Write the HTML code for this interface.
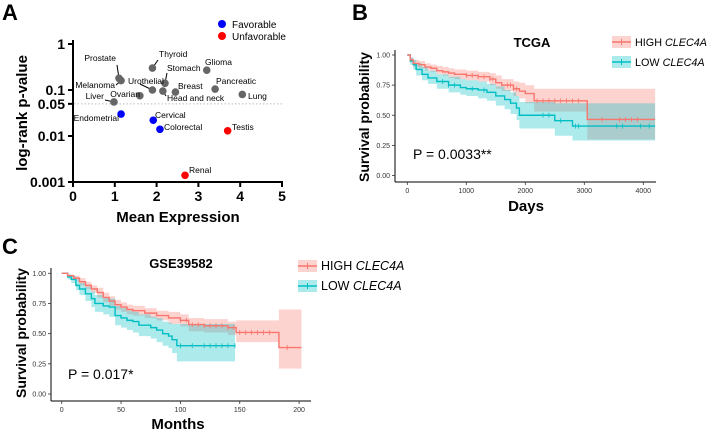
<!DOCTYPE html>
<html><head><meta charset="utf-8"><style>
html,body{margin:0;padding:0;background:#fff;}
svg{display:block;font-family:"Liberation Sans",Arial,sans-serif;}
</style></head><body>
<svg id="fig" width="708" height="431" viewBox="0 0 708 431" xmlns="http://www.w3.org/2000/svg">
<text x="2" y="20" font-size="22" font-weight="bold">A</text>
<text x="352" y="20" font-size="22" font-weight="bold">B</text>
<text x="2" y="254" font-size="22" font-weight="bold">C</text>
<g id="pa"></g>
<g id="pb"></g>
<g id="pc"></g>
</svg>
<script>
// ---- Panel A data ----
const cancers=["Prostate","Melanoma","Thyroid","Stomach","Glioma","Urothelial","Ovarian","Head and neck","Breast","Pancreatic","Lung","Liver","Endometrial","Cervical","Colorectal","Testis","Renal"];
const meanExpr=[1.1,1.15,1.9,2.2,3.2,1.9,1.6,2.15,2.45,3.4,4.05,0.98,1.15,1.92,2.08,3.7,2.68];
const pvals=[0.18,0.16,0.3,0.14,0.27,0.1,0.075,0.095,0.09,0.105,0.08,0.055,0.03,0.022,0.014,0.013,0.0014];
const groups=["n","n","n","n","n","n","n","n","n","n","n","n","f","f","f","u","u"];
const xTicksA=[0,1,2,3,4,5];
const yTicksA=[1,0.1,0.05,0.01,0.001];
// ---- Panel B data ----
const bHighT=[0,50,100,200,300,400,500,600,700,800,1000,1200,1400,1500,1600,1800,1900,2000,2150,3050];
const bHighS=[1,0.96,0.93,0.92,0.9,0.89,0.87,0.86,0.85,0.84,0.83,0.82,0.8,0.77,0.75,0.72,0.7,0.68,0.62,0.465];
const bHighHi=[1,0.98,0.96,0.95,0.93,0.92,0.91,0.9,0.89,0.88,0.87,0.86,0.85,0.83,0.8,0.78,0.77,0.75,0.72,0.72];
const bHighLo=[1,0.94,0.9,0.89,0.87,0.86,0.84,0.83,0.81,0.8,0.79,0.78,0.75,0.72,0.7,0.66,0.64,0.6,0.53,0.3];
const bHighCens=[1000,1100,1200,1300,1400,1450,1700,1750,1800,1850,2200,2300,2400,2500,2600,2700,2800,2900,3300,3600,3700,3800,3900];
const bLowT=[0,50,100,150,250,350,500,700,900,1000,1200,1350,1500,1650,1750,1850,1900,2450,2500,2800];
const bLowS=[1,0.95,0.92,0.88,0.84,0.81,0.78,0.75,0.73,0.72,0.71,0.69,0.66,0.63,0.6,0.56,0.5,0.5,0.455,0.41];
const bLowHi=[1,0.98,0.96,0.93,0.9,0.87,0.84,0.82,0.8,0.79,0.78,0.76,0.74,0.71,0.69,0.66,0.61,0.61,0.6,0.6];
const bLowLo=[1,0.92,0.88,0.83,0.79,0.76,0.72,0.69,0.67,0.66,0.64,0.62,0.58,0.55,0.51,0.46,0.39,0.39,0.33,0.29];
const bLowCens=[600,700,800,1100,1300,2300,2400,2600,2850,2900,3550,3650,3950,4100];
const bXTicks=[0,1000,2000,3000,4000];
const yTicksKM=[0,0.25,0.5,0.75,1];
// ---- Panel C data ----
const cHighT=[0,5,10,15,20,25,30,35,40,45,50,55,60,70,80,90,100,107,120,140,147,183];
const cHighS=[1,0.98,0.96,0.93,0.9,0.87,0.84,0.8,0.77,0.74,0.72,0.7,0.69,0.67,0.65,0.63,0.61,0.575,0.565,0.55,0.51,0.385];
const cHighHi=[1,0.99,0.98,0.96,0.93,0.9,0.88,0.84,0.81,0.78,0.76,0.74,0.73,0.71,0.69,0.68,0.66,0.63,0.62,0.6,0.61,0.7];
const cHighLo=[1,0.97,0.94,0.9,0.87,0.84,0.8,0.76,0.73,0.7,0.68,0.66,0.65,0.63,0.61,0.58,0.56,0.52,0.51,0.49,0.43,0.21];
const cHighCens=[100,105,110,115,120,125,130,135,140,145,150,155,160,165,170,175,190];
const cLowT=[0,5,8,12,15,20,25,28,35,40,45,50,55,60,65,70,75,80,85,90,93,97];
const cLowS=[1,0.97,0.95,0.9,0.87,0.83,0.79,0.75,0.73,0.72,0.65,0.63,0.61,0.6,0.57,0.57,0.55,0.53,0.5,0.48,0.45,0.4];
const cLowHi=[1,0.99,0.98,0.95,0.92,0.89,0.85,0.82,0.8,0.79,0.73,0.71,0.69,0.68,0.66,0.66,0.64,0.63,0.6,0.59,0.58,0.58];
const cLowLo=[1,0.95,0.92,0.86,0.82,0.77,0.72,0.68,0.66,0.64,0.57,0.55,0.53,0.51,0.48,0.48,0.46,0.43,0.4,0.38,0.34,0.27];
const cLowCens=[100,110,120,125,130,135,140,146];
const cXTicks=[0,50,100,150,200];

const NS="http://www.w3.org/2000/svg";
function mk(parent,tag,attrs,txt){const e=document.createElementNS(NS,tag);for(const k in attrs)e.setAttribute(k,attrs[k]);if(txt!==undefined)e.textContent=txt;parent.appendChild(e);return e;}

// ===== Panel A =====
(function(){
const g=document.getElementById('pa');
const X=v=>73+v*41.8;
const Y=p=>44+(-Math.log10(p))*46;
let e;
e=mk(g,'line',{x1:73,y1:40,x2:73,y2:182,stroke:'#000','stroke-width':2});


e=mk(g,'line',{x1:73,y1:182,x2:283,y2:182,stroke:'#000','stroke-width':2});


xTicksA.forEach(t=>{
 mk(g,'line',{x1:X(t),y1:182,x2:X(t),y2:187,stroke:'#000','stroke-width':2});
 e=mk(g,'text',{x:X(t),y:201,'font-size':14,'font-weight':'bold','text-anchor':'middle'},String(t));
 
 
});
yTicksA.forEach(t=>{
 mk(g,'line',{x1:68,y1:Y(t),x2:73,y2:Y(t),stroke:'#000','stroke-width':2});
 e=mk(g,'text',{x:65,y:Y(t)+5,'font-size':14,'font-weight':'bold','text-anchor':'end'},String(t));
 
 
});
e=mk(g,'line',{x1:74,y1:Y(0.05),x2:282,y2:Y(0.05),stroke:'#bbb','stroke-width':1,'stroke-dasharray':'1.5,2'});


e=mk(g,'text',{x:178,y:222,'font-size':15,'font-weight':'bold','text-anchor':'middle'},'Mean Expression');


e=mk(g,'text',{x:0,y:0,'font-size':15,'font-weight':'bold','text-anchor':'middle',transform:'translate(27,113) rotate(-90)'},'log-rank p-value');


// legend
mk(g,'circle',{cx:222,cy:24,r:4,fill:'#0000ff'});
e=mk(g,'text',{x:232,y:28,'font-size':10},'Favorable');


mk(g,'circle',{cx:222,cy:36,r:4,fill:'#ff0000'});
e=mk(g,'text',{x:232,y:40,'font-size':10},'Unfavorable');


// label placement: [textX, baselineY, anchor, leader x, leader y] (layout, not data)
const lab={"Prostate":[116,61,'end',117,65],"Melanoma":[115,88,'end',116,85],"Thyroid":[159,57,'start',158,60],
"Stomach":[167,71,'start',167,73],"Glioma":[205,65,'start',null],"Urothelial":[128,84,'start',140,84],
"Ovarian":[140,97,'end',140,95],"Head and neck":[167,101,'start',166,96],"Breast":[178,89,'start',null],
"Pancreatic":[216,84,'start',null],"Lung":[248,99,'start',null],"Liver":[104,99,'end',105,100],
"Endometrial":[119,121,'end',119,117],"Cervical":[155,118,'start',null],"Colorectal":[164,130,'start',null],
"Testis":[232,130,'start',null],"Renal":[189,173,'start',null]};
const col={n:'#666',f:'#0000ff',u:'#ff0000'};
cancers.forEach((c,i)=>{
 const cx=X(meanExpr[i]),cy=Y(pvals[i]);
 const L=lab[c];
 if(L[3]!==null){mk(g,'line',{x1:cx,y1:cy,x2:L[3],y2:L[4],stroke:'#000','stroke-width':1});}
 e=mk(g,'circle',{cx:cx,cy:cy,r:3.8,fill:col[groups[i]]});
 
 
 e=mk(g,'text',{x:L[0],y:L[1],'font-size':8.5,'text-anchor':L[2]},c);
 
 
});
})();

// ===== KM helper =====
const RED='#F8766D',TEAL='#00BFC4';
function stepPath(t,s,X,Y,tEnd){let d='M'+X(t[0])+','+Y(s[0]);for(let i=1;i<t.length;i++){d+=' H'+X(t[i])+' V'+Y(s[i]);}d+=' H'+X(tEnd);return d;}
function band(g,t,hi,lo,X,Y,tEnd,color,name){
 let d='M'+X(t[0])+','+Y(hi[0]);
 for(let i=1;i<t.length;i++){d+=' H'+X(t[i])+' V'+Y(hi[i]);}
 d+=' H'+X(tEnd)+' V'+Y(lo[lo.length-1]);
 for(let i=t.length-1;i>=1;i--){d+=' H'+X(t[i])+' V'+Y(lo[i-1]);}
 d+=' H'+X(t[0])+' Z';
 const e=mk(g,'path',{d:d,fill:color,'fill-opacity':0.32,stroke:'none'});
 
 
}
function survAt(t,s,x){let v=s[0];for(let i=0;i<t.length;i++){if(t[i]<=x)v=s[i];}return v;}
function kmPanel(g,o){
 const X=v=>o.x0+v*o.kx, Y=v=>o.y0-v*o.ky;
 let e;
 band(g,o.hT,o.hHi,o.hLo,X,Y,o.hEnd,RED,'high-ci-band');
 band(g,o.lT,o.lHi,o.lLo,X,Y,o.lEnd,TEAL,'low-ci-band');
 [[o.lT,o.lS,o.lEnd,TEAL,o.lC,'low'],[o.hT,o.hS,o.hEnd,RED,o.hC,'high']].forEach(a=>{
  e=mk(g,'path',{d:stepPath(a[0],a[1],X,Y,a[2]),fill:'none',stroke:a[3],'stroke-width':1.4});
  
  
  a[4].forEach(c=>{const yy=Y(survAt(a[0],a[1],c));mk(g,'line',{x1:X(c),y1:yy-2.5,x2:X(c),y2:yy+2.5,stroke:a[3],'stroke-width':0.8});});
 });
 e=mk(g,'line',{x1:o.ax,y1:o.yTop,x2:o.ax,y2:o.ay,stroke:'#000','stroke-width':1});
 
 
 e=mk(g,'line',{x1:o.ax,y1:o.ay,x2:o.xEndPx,y2:o.ay,stroke:'#000','stroke-width':1});
 
 
 yTicksKM.forEach(t=>{
  mk(g,'line',{x1:o.ax-3,y1:Y(t),x2:o.ax,y2:Y(t),stroke:'#333','stroke-width':0.8});
  e=mk(g,'text',{x:o.ax-5,y:Y(t)+2.5,'font-size':7,'text-anchor':'end',fill:'#333'},t.toFixed(2));
  
  
 });
 o.xt.forEach(t=>{
  mk(g,'line',{x1:X(t),y1:o.ay,x2:X(t),y2:o.ay+3,stroke:'#333','stroke-width':0.8});
  e=mk(g,'text',{x:X(t),y:o.ay+11,'font-size':7,'text-anchor':'middle',fill:'#333'},String(t));
  
  
 });
 e=mk(g,'text',{x:o.titleX,y:o.titleY,'font-size':13,'font-weight':'bold','text-anchor':'middle'},o.title);
 
 
 e=mk(g,'text',{x:o.xlabX,y:o.xlabY,'font-size':15,'font-weight':'bold','text-anchor':'middle'},o.xlab);
 
 
 e=mk(g,'text',{x:0,y:0,'font-size':14,'font-weight':'bold','text-anchor':'middle',transform:'translate('+o.ylabX+','+o.ylabY+') rotate(-90)'},'Survival probability');
 
 
 e=mk(g,'text',{x:o.pX,y:o.pY,'font-size':14},o.ptext);
 
 
 [[RED,'HIGH',0,'legend-high'],[TEAL,'LOW',20,'legend-low']].forEach(l=>{
  const ly=o.legY+l[2];
  mk(g,'rect',{x:o.legX,y:ly-6,width:19,height:12,fill:l[0],'fill-opacity':0.32});
  mk(g,'line',{x1:o.legX,y1:ly,x2:o.legX+19,y2:ly,stroke:l[0],'stroke-width':1.4});
  mk(g,'line',{x1:o.legX+9.5,y1:ly-3,x2:o.legX+9.5,y2:ly+3,stroke:l[0],'stroke-width':1});
  e=mk(g,'text',{x:o.legX+23,y:ly+4,'font-size':o.legFont});
  
  
  const t1=document.createElementNS(NS,'tspan');t1.textContent=l[1]+' ';e.appendChild(t1);
  const t2=document.createElementNS(NS,'tspan');t2.setAttribute('font-style','italic');t2.textContent='CLEC4A';e.appendChild(t2);
 });
}
kmPanel(document.getElementById('pb'),{x0:407.3,kx:0.059,y0:175.5,ky:120.5,ax:395,ay:182,yTop:50,xEndPx:656,
 hT:bHighT,hS:bHighS,hHi:bHighHi,hLo:bHighLo,hC:bHighCens,hEnd:4200,
 lT:bLowT,lS:bLowS,lHi:bLowHi,lLo:bLowLo,lC:bLowCens,lEnd:4200,xt:bXTicks,
 title:'TCGA',titleX:532,titleY:47,xlab:'Days',xlabX:526,xlabY:211,ylabX:369,ylabY:117,
 ptext:'P = 0.0033**',pX:413,pY:159,legX:612,legY:42,legFont:10.8});
kmPanel(document.getElementById('pc'),{x0:61.7,kx:1.187,y0:394,ky:120.7,ax:51,ay:401,yTop:268,xEndPx:311,
 hT:cHighT,hS:cHighS,hHi:cHighHi,hLo:cHighLo,hC:cHighCens,hEnd:202,
 lT:cLowT,lS:cLowS,lHi:cLowHi,lLo:cLowLo,lC:cLowCens,lEnd:146,xt:cXTicks,
 title:'GSE39582',titleX:181,titleY:268,xlab:'Months',xlabX:178,xlabY:429,ylabX:26,ylabY:333,
 ptext:'P = 0.017*',pX:68,pY:379,legX:298,legY:266,legFont:12.5});
</script>
</body></html>
